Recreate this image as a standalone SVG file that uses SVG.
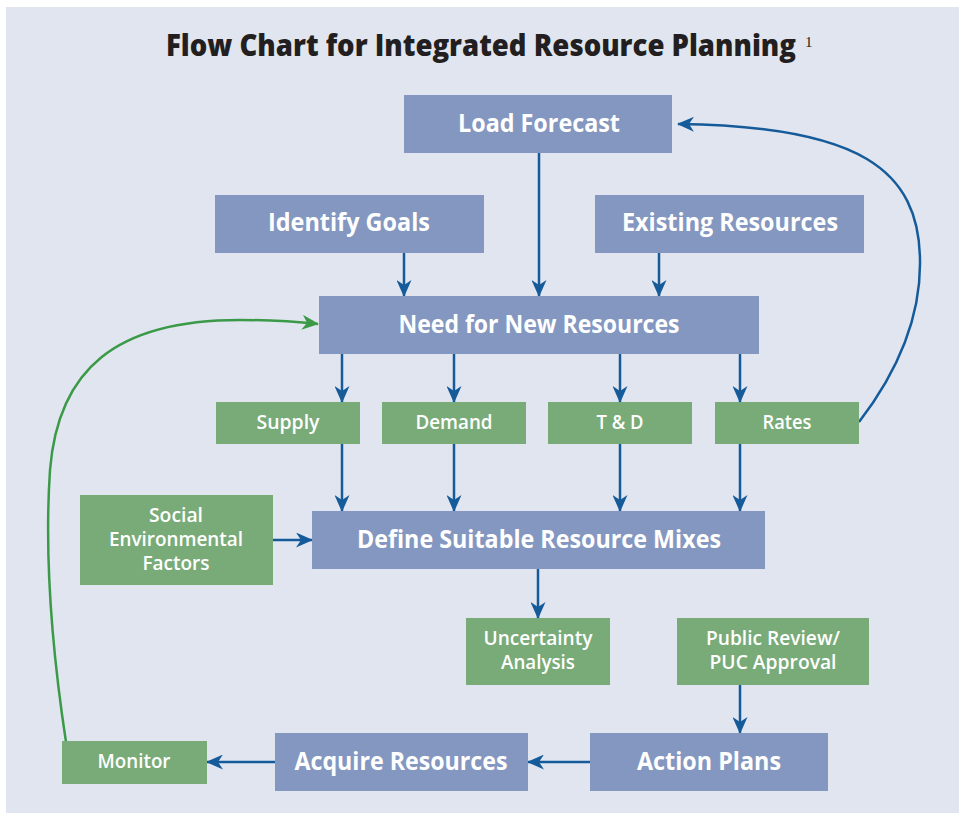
<svg xmlns="http://www.w3.org/2000/svg" width="959" height="813" viewBox="0 0 959 813">
<defs>
<style>
.bb{fill:#8497c0}
.gb{fill:#79ab78}
.t{font-family:"Open Sans","Noto Sans","Liberation Sans",sans-serif;fill:#ffffff;text-anchor:middle}
.big{font-size:25px;font-weight:700}
.sm{font-size:19px;font-weight:600}
.ln{fill:none;stroke:#155b9a;stroke-width:2.5}
.gl{fill:none;stroke:#3a9a48;stroke-width:2.5}
</style>
<marker id="ab" markerUnits="userSpaceOnUse" markerWidth="17" markerHeight="15" refX="16" refY="7.5" orient="auto">
<path d="M0,0 L17,7.5 L0,15 L5,7.5 z" fill="#155b9a"/>
</marker>
<marker id="ag" markerUnits="userSpaceOnUse" markerWidth="17" markerHeight="15" refX="16" refY="7.5" orient="auto">
<path d="M0,0 L17,7.5 L0,15 L5,7.5 z" fill="#3a9a48"/>
</marker>
</defs>
<rect x="0" y="0" width="959" height="813" fill="#ffffff"/>
<rect x="6" y="7" width="953" height="806" fill="#e1e5f0"/>
<g id="title">
<text y="56" style="fill:#231f20"><tspan x="166" y="56" textLength="630" lengthAdjust="spacingAndGlyphs" style="font-family:'Open Sans','Noto Sans','Liberation Sans',sans-serif;font-size:30px;font-weight:800">Flow Chart for Integrated Resource Planning</tspan><tspan x="805" y="47" style="font-family:'Liberation Serif',serif;font-size:15px;font-weight:400">1</tspan></text>
</g>
<g id="connectors">
<line class="ln" x1="539" y1="152" x2="539" y2="296" marker-end="url(#ab)"/>
<line class="ln" x1="404" y1="253" x2="404" y2="296" marker-end="url(#ab)"/>
<line class="ln" x1="659" y1="253" x2="659" y2="296" marker-end="url(#ab)"/>
<line class="ln" x1="342" y1="354" x2="342" y2="402" marker-end="url(#ab)"/>
<line class="ln" x1="454" y1="354" x2="454" y2="402" marker-end="url(#ab)"/>
<line class="ln" x1="620" y1="354" x2="620" y2="402" marker-end="url(#ab)"/>
<line class="ln" x1="740" y1="354" x2="740" y2="402" marker-end="url(#ab)"/>
<line class="ln" x1="342" y1="444" x2="342" y2="511" marker-end="url(#ab)"/>
<line class="ln" x1="454" y1="444" x2="454" y2="511" marker-end="url(#ab)"/>
<line class="ln" x1="620" y1="444" x2="620" y2="511" marker-end="url(#ab)"/>
<line class="ln" x1="740" y1="444" x2="740" y2="511" marker-end="url(#ab)"/>
<line class="ln" x1="273" y1="540" x2="312" y2="540" marker-end="url(#ab)"/>
<line class="ln" x1="538" y1="569" x2="538" y2="618" marker-end="url(#ab)"/>
<line class="ln" x1="740" y1="685" x2="740" y2="733" marker-end="url(#ab)"/>
<line class="ln" x1="590" y1="762" x2="528" y2="762" marker-end="url(#ab)"/>
<line class="ln" x1="275" y1="762" x2="207" y2="762" marker-end="url(#ab)"/>
<path class="ln" d="M859,422 C895,375 921,320 920,260 C919,170 860,126 678,124" marker-end="url(#ab)"/>
<path class="gl" d="M66,742 C52,650 44,560 50,470 C58,370 115,320 240,320 C275,320 300,322 318,324" marker-end="url(#ag)"/>
</g>
<g id="load-forecast"><rect class="bb" x="404" y="95" width="268" height="58"/><text class="t big" x="539" y="132" textLength="162" lengthAdjust="spacingAndGlyphs">Load Forecast</text></g>
<g id="identify-goals"><rect class="bb" x="215" y="195" width="269" height="58"/><text class="t big" x="349" y="231" textLength="162" lengthAdjust="spacingAndGlyphs">Identify Goals</text></g>
<g id="existing-resources"><rect class="bb" x="595" y="195" width="269" height="58"/><text class="t big" x="730" y="231" textLength="216" lengthAdjust="spacingAndGlyphs">Existing Resources</text></g>
<g id="need-new-resources"><rect class="bb" x="319" y="296" width="440" height="58"/><text class="t big" x="539" y="333" textLength="281" lengthAdjust="spacingAndGlyphs">Need for New Resources</text></g>
<g id="supply"><rect class="gb" x="216" y="402" width="144" height="42"/><text class="t sm" x="288" y="429" textLength="63" lengthAdjust="spacingAndGlyphs">Supply</text></g>
<g id="demand"><rect class="gb" x="382" y="402" width="144" height="42"/><text class="t sm" x="454" y="429" textLength="77" lengthAdjust="spacingAndGlyphs">Demand</text></g>
<g id="t-and-d"><rect class="gb" x="548" y="402" width="144" height="42"/><text class="t sm" x="620" y="429" textLength="47" lengthAdjust="spacingAndGlyphs">T &amp; D</text></g>
<g id="rates"><rect class="gb" x="715" y="402" width="144" height="42"/><text class="t sm" x="787" y="429" textLength="49" lengthAdjust="spacingAndGlyphs">Rates</text></g>
<g id="social-environmental"><rect class="gb" x="80" y="495" width="193" height="90"/>
<text class="t sm" x="176" y="522" textLength="54" lengthAdjust="spacingAndGlyphs">Social</text>
<text class="t sm" x="176" y="546" textLength="134" lengthAdjust="spacingAndGlyphs">Environmental</text>
<text class="t sm" x="176" y="570" textLength="67" lengthAdjust="spacingAndGlyphs">Factors</text></g>
<g id="define-mixes"><rect class="bb" x="312" y="511" width="453" height="58"/><text class="t big" x="539" y="548" textLength="364" lengthAdjust="spacingAndGlyphs">Define Suitable Resource Mixes</text></g>
<g id="uncertainty"><rect class="gb" x="466" y="618" width="144" height="67"/>
<text class="t sm" x="538" y="645" textLength="109" lengthAdjust="spacingAndGlyphs">Uncertainty</text>
<text class="t sm" x="538" y="669" textLength="74" lengthAdjust="spacingAndGlyphs">Analysis</text></g>
<g id="public-review"><rect class="gb" x="677" y="618" width="192" height="67"/>
<text class="t sm" x="773" y="645" textLength="134" lengthAdjust="spacingAndGlyphs">Public Review/</text>
<text class="t sm" x="773" y="669" textLength="127" lengthAdjust="spacingAndGlyphs">PUC Approval</text></g>
<g id="action-plans"><rect class="bb" x="590" y="733" width="238" height="58"/><text class="t big" x="709" y="770" textLength="144" lengthAdjust="spacingAndGlyphs">Action Plans</text></g>
<g id="acquire-resources"><rect class="bb" x="275" y="733" width="253" height="58"/><text class="t big" x="401" y="770" textLength="213" lengthAdjust="spacingAndGlyphs">Acquire Resources</text></g>
<g id="monitor"><rect class="gb" x="62" y="741" width="145" height="43"/><text class="t sm" x="134" y="768" textLength="73" lengthAdjust="spacingAndGlyphs">Monitor</text></g>
</svg>
